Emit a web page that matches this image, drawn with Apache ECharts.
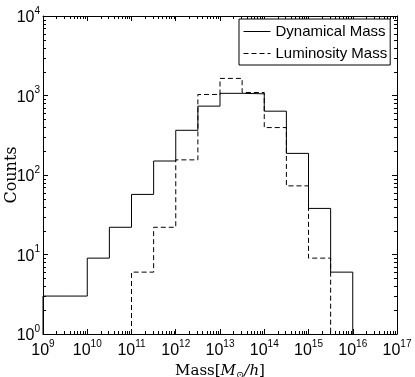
<!DOCTYPE html>
<html>
<head>
<meta charset="utf-8">
<script src="https://cdn.jsdelivr.net/npm/echarts@6/dist/echarts.min.js"></script>
<style>
  html, body { margin: 0; padding: 0; background: #fff; }
  #chartWrap { width: 415px; height: 377px; }
</style>
</head>
<body>
<div id="chartWrap"></div>
<script>
// bin edges as log10(mass), 0.5 dex bins
var binEdges = [9, 9.5, 10, 10.5, 11, 11.5, 12, 12.5, 13, 13.5, 14, 14.5, 15, 15.5, 16];
var dynamicalCounts = [3, 3, 9, 22, 57, 150, 365, 735, 1065, 1050, 635, 187, 38, 6];
var luminosityCounts = [0, 0, 0, 0, 6, 22, 155, 1030, 1640, 1090, 395, 73, 9, 0];

var xDecades = [9, 10, 11, 12, 13, 14, 15, 16, 17];
var yDecades = [0, 1, 2, 3, 4];
var minorSteps = [2, 3, 4, 5, 6, 7, 8, 9];

var SANS = 'Liberation Sans';
var SERIF = 'DejaVu Serif';

// histogram -> step points, dropping down to the axis floor at both ends
function stepData(counts) {
  var i0 = 0, i1 = counts.length - 1;
  while (i0 < counts.length && !counts[i0]) i0++;
  while (i1 > 0 && !counts[i1]) i1--;
  var out = [[Math.pow(10, binEdges[i0]), 1]];
  for (var i = i0; i <= i1; i++) {
    out.push([Math.pow(10, binEdges[i]), counts[i]]);
  }
  out.push([Math.pow(10, binEdges[i1 + 1]), 1]);
  return out;
}

function minorList(decades) {
  var list = [];
  for (var d = 0; d < decades.length - 1; d++) {
    for (var k = 0; k < minorSteps.length; k++) {
      list.push(minorSteps[k] * Math.pow(10, decades[d]));
    }
  }
  return list;
}

var xMinor = minorList(xDecades).map(function (v) { return [v, 1]; });
var yMinor = minorList(yDecades).map(function (v) { return [1e9, v]; });

function powLabel(v) {
  return '{b|10}{s|' + Math.round(Math.log10(v)) + '}';
}

var labelRich = {
  b: { fontFamily: SANS, fontSize: 16, color: '#000', lineHeight: 20, verticalAlign: 'bottom' },
  s: { fontFamily: SANS, fontSize: 10, color: '#000', lineHeight: 20, verticalAlign: 'top' }
};

function logAxis(extra) {
  var ax = {
    type: 'log',
    logBase: 10,
    axisLine: { show: true, onZero: false, lineStyle: { color: '#000', width: 1 } },
    axisTick: { show: true, inside: true, length: 5, lineStyle: { color: '#000', width: 1 } },
    splitLine: { show: false },
    axisLabel: { show: false }
  };
  for (var k in extra) ax[k] = extra[k];
  return ax;
}

var TICK = 3;

var myChart = echarts.init(document.getElementById('chartWrap'), null, { renderer: 'canvas' });
myChart.setOption({
  animation: false,
  backgroundColor: '#fff',
  grid: { left: 43, right: 18, top: 16, bottom: 43, containLabel: false, outerBoundsMode: 'none' },
  legend: {
    data: ['Dynamical Mass', 'Luminosity Mass'],
    orient: 'vertical',
    left: 239,
    top: 19,
    itemWidth: 27,
    itemHeight: 14,
    itemGap: 5,
    padding: [4, 3, 3, 4],
    borderColor: '#000',
    borderWidth: 1,
    borderRadius: 0,
    backgroundColor: '#fff',
    itemStyle: { opacity: 0 },
    lineStyle: { width: 1 },
    textStyle: { fontFamily: SANS, fontSize: 15, color: '#000', lineHeight: 17 }
  },
  xAxis: [
    logAxis({
      position: 'bottom', min: 1e9, max: 1e17, splitNumber: 8,
      axisLabel: { show: true, margin: 5, formatter: powLabel, rich: labelRich },
      name: '{r|Mass[}{i|M}{sub|\u2299}{i|/h}{r|]}',
      nameLocation: 'middle',
      nameGap: 28,
      nameMoveOverlap: false,
      nameTextStyle: {
        rich: {
          r: { fontFamily: SERIF, fontSize: 15, color: '#000', lineHeight: 18 },
          i: { fontFamily: SERIF, fontSize: 15, fontStyle: 'italic', color: '#000', lineHeight: 18 },
          sub: { fontFamily: SERIF, fontSize: 10, color: '#000', lineHeight: 18, verticalAlign: 'bottom' }
        }
      }
    }),
    logAxis({ position: 'top', min: 1e9, max: 1e17, splitNumber: 8 })
  ],
  yAxis: [
    logAxis({
      position: 'left', min: 1, max: 1e4, splitNumber: 4,
      axisLabel: { show: true, margin: 3, formatter: powLabel, rich: labelRich },
      name: 'Counts',
      nameLocation: 'middle',
      nameGap: 23,
      nameRotate: 90,
      nameMoveOverlap: false,
      nameTextStyle: { fontFamily: SERIF, fontSize: 16, color: '#000' }
    }),
    logAxis({ position: 'right', min: 1, max: 1e4, splitNumber: 4 })
  ],
  series: [
    {
      name: 'Dynamical Mass',
      type: 'line',
      step: 'end',
      symbol: 'none',
      color: '#000',
      lineStyle: { color: '#000', width: 1, type: 'solid' },
      data: stepData(dynamicalCounts)
    },
    {
      name: 'Luminosity Mass',
      type: 'line',
      step: 'end',
      symbol: 'none',
      color: '#000',
      lineStyle: { color: '#000', width: 1, type: [5, 3] },
      data: stepData(luminosityCounts)
    },
    {
      // minor ticks on bottom and top
      type: 'custom',
      silent: true,
      clip: false,
      data: xMinor,
      renderItem: function (params, api) {
        var cs = params.coordSys;
        var x = Math.round(api.coord([api.value(0), 1])[0]) + 0.5;
        var yb = cs.y + cs.height, yt = cs.y;
        var st = { stroke: '#000', lineWidth: 1 };
        return {
          type: 'group',
          children: [
            { type: 'line', shape: { x1: x, y1: yb, x2: x, y2: yb - TICK }, style: st },
            { type: 'line', shape: { x1: x, y1: yt, x2: x, y2: yt + TICK }, style: st }
          ]
        };
      }
    },
    {
      // minor ticks on left and right
      type: 'custom',
      silent: true,
      clip: false,
      data: yMinor,
      renderItem: function (params, api) {
        var cs = params.coordSys;
        var y = Math.round(api.coord([1e9, api.value(1)])[1]) + 0.5;
        var xl = cs.x, xr = cs.x + cs.width;
        var st = { stroke: '#000', lineWidth: 1 };
        return {
          type: 'group',
          children: [
            { type: 'line', shape: { x1: xl, y1: y, x2: xl + TICK, y2: y }, style: st },
            { type: 'line', shape: { x1: xr, y1: y, x2: xr - TICK, y2: y }, style: st }
          ]
        };
      }
    }
  ]
});
</script>
</body>
</html>
